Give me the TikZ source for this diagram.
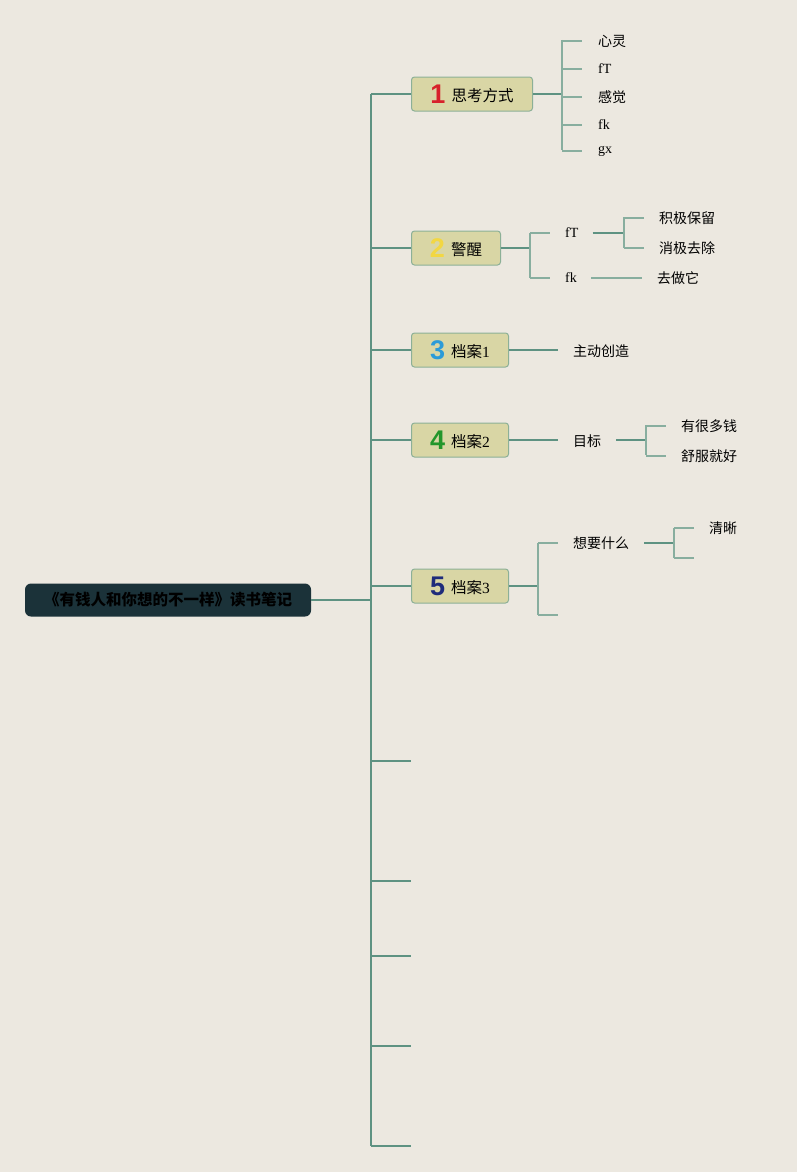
\documentclass[tikz,border=0pt]{standalone}
\usepackage{fontspec}
\setmainfont{Liberation Serif}
\newfontfamily\cjk{Noto Sans CJK SC}
\newfontfamily\numfont{Liberation Sans}
\definecolor{bg}{HTML}{ECE8E0}
\definecolor{trunkc}{HTML}{5E9282}
\definecolor{leafc}{HTML}{88AE9F}
\definecolor{rootc}{HTML}{1B3239}
\definecolor{boxc}{HTML}{D9D6A5}
\definecolor{boxline}{HTML}{8CB097}
\definecolor{none}{HTML}{D7212B}
\definecolor{ntwo}{HTML}{F2D743}
\definecolor{nthree}{HTML}{2B9BD8}
\definecolor{nfour}{HTML}{23962B}
\definecolor{nfive}{HTML}{1F2C7B}
\newcommand\bignum[2]{{\numfont\bfseries\fontsize{27}{27}\selectfont\color{#1}\raisebox{-1.5pt}{#2}}\hspace{6pt}}

\begin{document}
\begin{tikzpicture}[x=1pt,y=-1pt,
    root/.style={fill=rootc,rounded corners=6pt,minimum width=286pt,minimum height=33pt,
      text=black,font=\cjk\bfseries\fontsize{15.5}{18}\selectfont},
    branch/.style={fill=boxc,draw=boxline,line width=1pt,rounded corners=3pt,anchor=west,
      minimum height=34pt,inner ysep=0pt,inner xsep=0pt,font=\fontsize{15.5}{18}\selectfont},
    leaf/.style={anchor=west,inner sep=0pt,font=\fontsize{14}{17}\selectfont},
    trunk/.style={draw=trunkc,line width=1.6pt},
    link/.style={draw=trunkc,line width=1.2pt},
    leaflink/.style={draw=leafc,line width=1.2pt}]

	\fill[bg] (0,0) rectangle (797,1172);
	\useasboundingbox (0,0) rectangle (797,1172);

	% trunk and root
	\node[root] (root) at (168,600) {《有钱人和你想的不一样》读书笔记};
	\coordinate (ttop) at (371,94); \coordinate (tbot) at (371,1146);
	\draw[trunk] (ttop) -- (tbot);
	\draw[trunk] (root.east) -- (root.east -| ttop);

	% main branches
	\node[branch,minimum width=121pt] (b1) at (411,94) {\bignum{none}{1}{\cjk 思考方式}};
	\node[branch,minimum width=89pt] (b2) at (411,248) {\bignum{ntwo}{2}{\cjk 警醒}};
	\node[branch,minimum width=97pt] (b3) at (411,350) {\bignum{nthree}{3}{\cjk 档案}1};
	\node[branch,minimum width=97pt] (b4) at (411,440) {\bignum{nfour}{4}{\cjk 档案}2};
	\node[branch,minimum width=97pt] (b5) at (411,586) {\bignum{nfive}{5}{\cjk 档案}3};
	\foreach \b in {b1,b2,b3,b4,b5}
	  \draw[link] (\b.west -| ttop) -- (\b.west);
	\foreach \y [count=\i] in {761,881,956,1046,1146} {
	  \coordinate (e\i) at (411,\y);
	  \draw[link] (e\i -| ttop) -- (e\i);
	}

	% branch 1
	\coordinate (f1) at (562,94);
	\draw[link] (b1.east) -- (f1);
	\draw[leaflink] (562,40) -- (562,150);
	\node[leaf] (l11) at (598,41) {\cjk 心灵};
	\node[leaf] (l12) at (598,69) {fT};
	\node[leaf] (l13) at (598,97) {\cjk 感觉};
	\node[leaf] (l14) at (598,125) {fk};
	\node[leaf] (l15) at (598,151) {gx};
	\foreach \l in {l11,l12,l13,l14,l15}
	  \draw[leaflink] (\l.west -| f1) -- ([xshift=-16pt]\l.west);

	% branch 2
	\coordinate (f2) at (530,248);
	\draw[link] (b2.east) -- (f2);
	\draw[leaflink] (530,233) -- (530,278);
	\node[leaf] (l21) at (565,233) {fT};
	\node[leaf] (l22) at (565,278) {fk};
	\draw[leaflink] (l21.west -| f2) -- ([xshift=-15pt]l21.west);
	\draw[leaflink] (l22.west -| f2) -- ([xshift=-15pt]l22.west);
	\coordinate (f21) at (624,233);
	\draw[link] ([xshift=14pt]l21.east) -- (f21);
	\draw[leaflink] (624,217) -- (624,248);
	\node[leaf] (l211) at (659,218) {\cjk 积极保留};
	\node[leaf] (l212) at (659,248) {\cjk 消极去除};
	\draw[leaflink] (l211.west -| f21) -- ([xshift=-15pt]l211.west);
	\draw[leaflink] (l212.west -| f21) -- ([xshift=-15pt]l212.west);
	\node[leaf] (l221) at (657,278) {\cjk 去做它};
	\draw[leaflink] ([xshift=14pt]l22.east) -- ([xshift=-15pt]l221.west);

	% branch 3
	\node[leaf] (l31) at (573,351) {\cjk 主动创造};
	\draw[link] (b3.east) -- ([xshift=-15pt]l31.west |- b3.east);

	% branch 4
	\node[leaf] (l41) at (573,441) {\cjk 目标};
	\draw[link] (b4.east) -- ([xshift=-15pt]l41.west |- b4.east);
	\coordinate (f4) at (646,440);
	\draw[link] ([xshift=15pt]l41.east |- f4) -- (f4);
	\draw[leaflink] (646,425) -- (646,455);
	\node[leaf] (l411) at (681,426) {\cjk 有很多钱};
	\node[leaf] (l412) at (681,456) {\cjk 舒服就好};
	\draw[leaflink] (l411.west -| f4) -- ([xshift=-15pt]l411.west);
	\draw[leaflink] (l412.west -| f4) -- ([xshift=-15pt]l412.west);

	% branch 5
	\coordinate (f5) at (538,586);
	\draw[link] (b5.east) -- (f5);
	\draw[leaflink] (538,543) -- (538,615);
	\node[leaf] (l51) at (573,543) {\cjk 想要什么};
	\coordinate (l52) at (558,615);
	\draw[leaflink] (l51.west -| f5) -- ([xshift=-15pt]l51.west);
	\draw[leaflink] (l52 -| f5) -- (l52);
	\coordinate (f51) at (674,543);
	\draw[link] ([xshift=15pt]l51.east) -- (f51);
	\draw[leaflink] (674,528) -- (674,558);
	\node[leaf] (l511) at (709,528) {\cjk 清晰};
	\coordinate (l512) at (694,558);
	\draw[leaflink] (l511.west -| f51) -- ([xshift=-15pt]l511.west);
	\draw[leaflink] (l512 -| f51) -- (l512);
\end{tikzpicture}
\end{document}
